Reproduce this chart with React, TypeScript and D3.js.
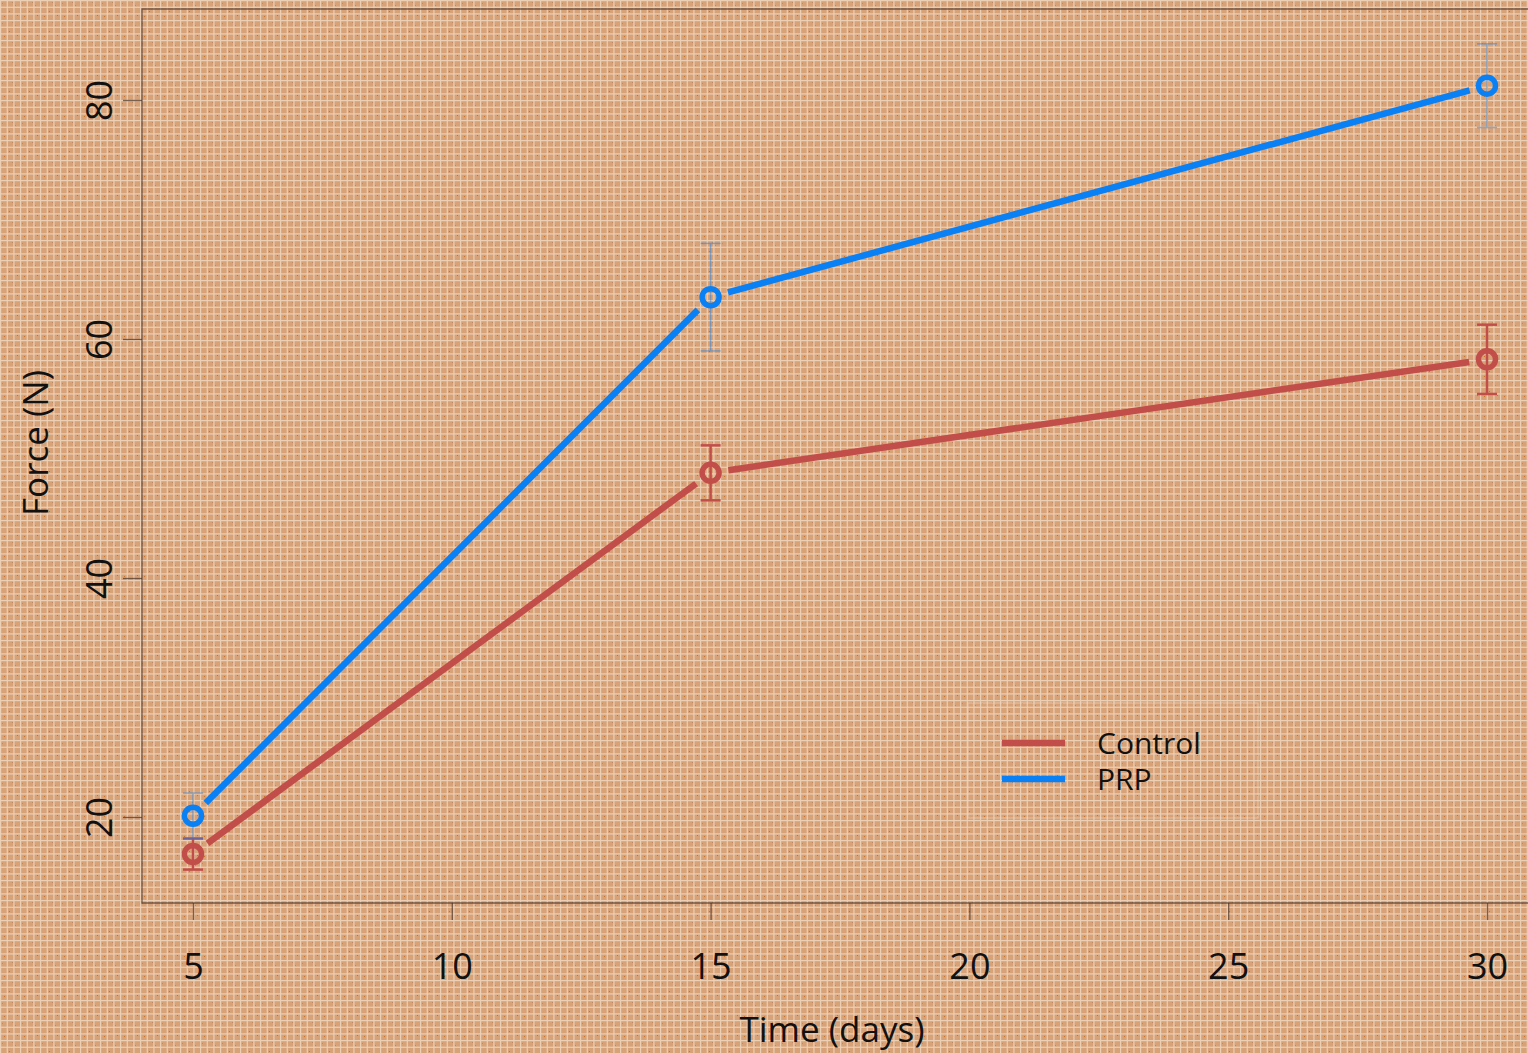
import React, { useRef, useEffect } from "react";
import * as d3 from "d3";

const days = [5, 15, 30];
const controlMean = [16.9, 48.8, 58.3];
const controlErr = [1.3, 2.3, 2.9];
const prpMean = [20.1, 63.5, 81.2];
const prpErr = [1.9, 4.5, 3.5];
const xTicks = [5, 10, 15, 20, 25, 30];
const yTicks = [20, 40, 60, 80];

const series = [
  { name: "Control", color: "#c24e4a", mean: controlMean, err: controlErr, errWidth: 2.5, errOpacity: 1 },
  { name: "PRP", color: "#0a80f5", mean: prpMean, err: prpErr, errWidth: 1.5, errOpacity: 0.45 },
];

const App = () => {
  const svgRef = useRef(null);

  useEffect(() => {
    const width = 1528;
    const height = 1053;
    const font = "'Open Sans', Lato, sans-serif";
    const svg = d3.select(svgRef.current);
    svg.selectAll("*").remove();
    svg.attr("width", width).attr("height", height);

    // background texture
    const defs = svg.append("defs");
    const pat = defs
      .append("pattern")
      .attr("id", "bg")
      .attr("patternUnits", "userSpaceOnUse")
      .attr("width", 20)
      .attr("height", 20);
    pat.append("rect").attr("width", 20).attr("height", 20).attr("fill", "#d8a279");
    [[2, 3], [9, 11], [15, 5], [4, 16], [12, 2], [17, 15], [7, 8]].forEach(([a, b], i) => {
      pat
        .append("rect")
        .attr("x", a)
        .attr("y", b)
        .attr("width", 1)
        .attr("height", 1)
        .attr("fill", i % 2 ? "#c7742f" : "#bf8a63");
    });
    [0, 6.67, 13.33].forEach((p) => {
      pat.append("rect").attr("x", p).attr("y", 0).attr("width", 1.2).attr("height", 20).attr("fill", "#ecd0b6");
      pat.append("rect").attr("x", 0).attr("y", p).attr("width", 20).attr("height", 1.2).attr("fill", "#ecd0b6");
    });
    svg.append("rect").attr("width", width).attr("height", height).attr("fill", "url(#bg)");

    const x = d3.scaleLinear().domain([5, 30]).range([193, 1487]);
    const y = d3.scaleLinear().domain([20, 80]).range([817, 100]);

    // plot frame
    const frameColor = "rgba(70,50,40,0.7)";
    svg
      .append("path")
      .attr("d", `M${width + 2},9H142V903H${width + 2}`)
      .attr("fill", "none")
      .attr("stroke", frameColor)
      .attr("stroke-width", 1.3);

    // axes
    const xAxis = svg.append("g").attr("transform", "translate(0,903)");
    xAxis.call(d3.axisBottom(x).tickValues(xTicks).tickSize(17).tickSizeOuter(0).tickFormat(d3.format("d")));
    xAxis.select(".domain").remove();
    xAxis.selectAll("line").attr("stroke", frameColor).attr("stroke-width", 1.3);
    xAxis
      .selectAll("text")
      .attr("font-family", font)
      .attr("font-size", 36)
      .attr("fill", "#111")
      .attr("dy", 0)
      .attr("y", 76);

    const yAxis = svg.append("g").attr("transform", "translate(142,0)");
    yAxis.call(d3.axisLeft(y).tickValues(yTicks).tickSize(19).tickSizeOuter(0).tickFormat(d3.format("d")));
    yAxis.select(".domain").remove();
    yAxis.selectAll("line").attr("stroke", frameColor).attr("stroke-width", 1.3);
    yAxis
      .selectAll("text")
      .attr("font-family", font)
      .attr("font-size", 36)
      .attr("fill", "#111")
      .attr("x", 0)
      .attr("dy", 0)
      .attr("text-anchor", "middle")
      .attr("transform", "translate(-30,0) rotate(-90)");

    // axis titles
    svg
      .append("text")
      .attr("x", 832)
      .attr("y", 1042)
      .attr("text-anchor", "middle")
      .attr("font-family", font)
      .attr("font-size", 35)
      .attr("fill", "#111")
      .text("Time (days)");
    svg
      .append("text")
      .attr("transform", "translate(48,443) rotate(-90)")
      .attr("text-anchor", "middle")
      .attr("font-family", font)
      .attr("font-size", 35)
      .attr("fill", "#111")
      .text("Force (N)");

    const gap = 18;
    series.forEach((s) => {
      const g = svg.append("g");
      const pts = days.map((d, i) => [x(d), y(s.mean[i])]);
      // line segments with gaps around points
      for (let i = 0; i < pts.length - 1; i++) {
        const [x0, y0] = pts[i];
        const [x1, y1] = pts[i + 1];
        const len = Math.hypot(x1 - x0, y1 - y0);
        const ux = (x1 - x0) / len;
        const uy = (y1 - y0) / len;
        g.append("line")
          .attr("x1", x0 + ux * gap)
          .attr("y1", y0 + uy * gap)
          .attr("x2", x1 - ux * gap)
          .attr("y2", y1 - uy * gap)
          .attr("stroke", s.color)
          .attr("stroke-width", 6.5);
      }
      // error bars
      days.forEach((d, i) => {
        const cx = x(d);
        const top = y(s.mean[i] + s.err[i]);
        const bot = y(s.mean[i] - s.err[i]);
        const eg = g.append("g").attr("stroke", s.color).attr("stroke-width", s.errWidth).attr("opacity", s.errOpacity);
        eg.append("line").attr("x1", cx).attr("x2", cx).attr("y1", top).attr("y2", bot);
        eg.append("line").attr("x1", cx - 10).attr("x2", cx + 10).attr("y1", top).attr("y2", top);
        eg.append("line").attr("x1", cx - 10).attr("x2", cx + 10).attr("y1", bot).attr("y2", bot);
      });
      // markers
      g.selectAll("circle.pt")
        .data(pts)
        .enter()
        .append("circle")
        .attr("cx", (p) => p[0])
        .attr("cy", (p) => p[1])
        .attr("r", 8.5)
        .attr("fill", "none")
        .attr("stroke", s.color)
        .attr("stroke-width", 5.5);
    });

    // legend
    const lg = svg.append("g");
    lg.append("rect")
      .attr("x", 968)
      .attr("y", 703)
      .attr("width", 290)
      .attr("height", 115)
      .attr("fill", "none")
      .attr("stroke", "rgba(240,220,200,0.6)")
      .attr("stroke-width", 1);
    series.forEach((s, i) => {
      const ly = 743 + i * 36;
      lg.append("line")
        .attr("x1", 1002)
        .attr("x2", 1065)
        .attr("y1", ly)
        .attr("y2", ly)
        .attr("stroke", s.color)
        .attr("stroke-width", 6.5);
      lg.append("text")
        .attr("x", 1097)
        .attr("y", ly + 11)
        .attr("font-family", font)
        .attr("font-size", 30)
        .attr("fill", "#111")
        .text(s.name);
    });
  }, []);

  return <svg ref={svgRef} style={{ position: "absolute", left: 0, top: 0 }}></svg>;
};

export default App;
